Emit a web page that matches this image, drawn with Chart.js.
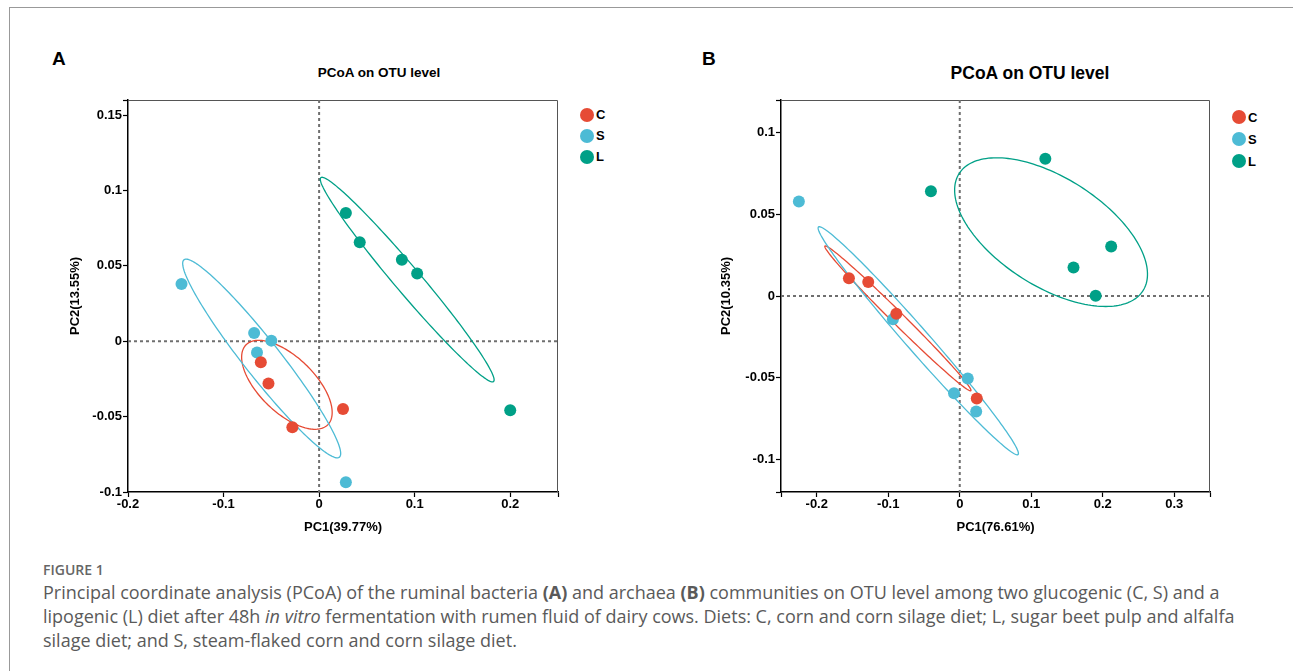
<!DOCTYPE html>
<html>
<head>
<meta charset="utf-8">
<title>PCoA on OTU level</title>
<script src="https://cdn.jsdelivr.net/npm/chart.js@4.4.0/dist/chart.umd.min.js"></script>
<style>
body { margin:0; width:1293px; height:671px; background:#fff; overflow:hidden; position:relative; font-family:"Liberation Sans", Arial, sans-serif; }
#frame { position:absolute; left:9px; top:7px; width:1290px; height:670px; border-top:1px solid #999; border-left:1px solid #999; }
.letter { position:absolute; font-weight:bold; font-size:19px; line-height:19px; }
.ptitle { position:absolute; font-weight:bold; transform:translateX(-50%); white-space:nowrap; }
.leg { position:absolute; font-weight:bold; font-size:13px; }
.leg div { display:flex; align-items:center; }
.leg span { display:inline-block; width:14px; height:14px; border-radius:50%; margin-right:2px; }
canvas { position:absolute; }
#cap { position:absolute; left:43px; top:561px; font-family:"Open Sans", sans-serif; color:#5a5a5a; white-space:nowrap; }
#cap .fig { font-size:14px; font-weight:600; line-height:18px; color:#666; }
#cap .txt { font-size:18px; line-height:24px; margin-top:1px; }
</style>
</head>
<body>
<div id="frame"></div>
<div class="letter" style="left:52px;top:49px;">A</div>
<div class="letter" style="left:702px;top:49px;">B</div>
<div class="ptitle" style="left:379px;top:65px;font-size:13.5px;">PCoA on OTU level</div>
<div class="ptitle" style="left:1030px;top:63px;font-size:17.5px;">PCoA on OTU level</div>
<div class="leg" id="legA" style="left:580px;top:104px;"></div>
<div class="leg" id="legB" style="left:1232px;top:106px;"></div>
<canvas id="chartA" width="530" height="460" style="left:40px;top:90px;"></canvas>
<canvas id="chartB" width="530" height="460" style="left:690px;top:90px;"></canvas>
<div id="cap">
<div class="fig">FIGURE 1</div>
<div class="txt">Principal coordinate analysis (PCoA) of the ruminal bacteria <b>(A)</b> and archaea <b>(B)</b> communities on OTU level among two glucogenic (C, S) and a<br>lipogenic (L) diet after 48h <i>in vitro</i> fermentation with rumen fluid of dairy cows. Diets: C, corn and corn silage diet; L, sugar beet pulp and alfalfa<br>silage diet; and S, steam-flaked corn and corn silage diet.</div>
</div>
<script>
var groups = ['C', 'S', 'L'];
var colors = ['#E64B35', '#4DBBD5', '#00A087'];

// A : bacteria
var aC_x = [-0.061, -0.053, -0.028, 0.025];
var aC_y = [-0.014, -0.028, -0.057, -0.045];
var aS_x = [-0.144, -0.068, -0.050, -0.065, 0.028];
var aS_y = [0.038, 0.0055, 0.0004, -0.0075, -0.0935];
var aL_x = [0.028, 0.0425, 0.0866, 0.1026, 0.200];
var aL_y = [0.085, 0.0656, 0.054, 0.0449, -0.0458];
// ellipses: centre x, centre y, semi axis u (dx, dy), semi axis v (dx, dy)
var aEll_C = [-0.0337, -0.0289, 0.0409, -0.0275, 0.0239, 0.0107];
var aEll_S = [-0.0601, -0.01145, 0.0810, -0.0656, 0.0166, 0.0062];
var aEll_L = [0.0922, 0.0409, 0.0902, -0.0677, 0.01166, 0.00469];
var aXTicks = [-0.2, -0.1, 0, 0.1, 0.2, 0.25];
var aXLabels = ['-0.2', '-0.1', '0', '0.1', '0.2', ''];
var aYTicks = [-0.1, -0.05, 0, 0.05, 0.1, 0.15, 0.16];
var aYLabels = ['-0.1', '-0.05', '0', '0.05', '0.1', '0.15', ''];

// B : archaea
var bC_x = [-0.155, -0.128, -0.0887, 0.0238];
var bC_y = [0.0108, 0.0085, -0.0109, -0.0627];
var bS_x = [-0.225, -0.0935, 0.0112, -0.008, 0.023];
var bS_y = [0.0578, -0.0143, -0.0505, -0.0595, -0.0707];
var bL_x = [-0.0403, 0.1197, 0.2118, 0.1591, 0.1901];
var bL_y = [0.0641, 0.0840, 0.0303, 0.0175, 0.0001];
var bEll_C = [-0.0865, -0.0137, 0.1020, -0.0443, 0.0068, 0.0023];
var bEll_S = [-0.0580, -0.0274, 0.1394, -0.0697, 0.0136, 0.0040];
var bEll_L = [0.1277, 0.0391, 0.1255, -0.0377, 0.0494, 0.0255];
var bXTicks = [-0.25, -0.2, -0.1, 0, 0.1, 0.2, 0.3, 0.35];
var bXLabels = ['', '-0.2', '-0.1', '0', '0.1', '0.2', '0.3', ''];
var bYTicks = [-0.12, -0.1, -0.05, 0, 0.05, 0.1, 0.12];
var bYLabels = ['', '-0.1', '-0.05', '0', '0.05', '0.1', ''];

var fontBold = { family: '"Liberation Sans", Arial, sans-serif', size: 13, weight: 'bold' };

function pts(xs, ys) {
  return xs.map(function(x, i) { return { x: x, y: ys[i] }; });
}

// frame, dotted zero lines and confidence ellipses, all through the chart scales
function makeShapes(ellipses) {
  return {
    id: 'shapes',
    beforeDatasetsDraw: function(chart) {
      var ctx = chart.ctx, xs = chart.scales.x, ys = chart.scales.y, a = chart.chartArea;
      ctx.save();
      ctx.strokeStyle = '#555';
      ctx.lineWidth = 1;
      ctx.beginPath();
      ctx.moveTo(a.left, a.top + 0.5);
      ctx.lineTo(a.right - 0.5, a.top + 0.5);
      ctx.lineTo(a.right - 0.5, a.bottom);
      ctx.stroke();

      var x0 = xs.getPixelForValue(0), y0 = ys.getPixelForValue(0);
      ctx.strokeStyle = '#6f6f6f';
      ctx.lineWidth = 2;
      ctx.setLineDash([3, 3]);
      ctx.beginPath();
      ctx.moveTo(x0, a.top); ctx.lineTo(x0, a.bottom);
      ctx.moveTo(a.left, y0); ctx.lineTo(a.right, y0);
      ctx.stroke();
      ctx.setLineDash([]);

      ctx.lineWidth = 1.3;
      ellipses.forEach(function(e, k) {
        ctx.strokeStyle = colors[k];
        ctx.beginPath();
        for (var i = 0; i <= 180; i++) {
          var t = i / 180 * Math.PI * 2;
          var px = xs.getPixelForValue(e[0] + Math.cos(t) * e[2] + Math.sin(t) * e[4]);
          var py = ys.getPixelForValue(e[1] + Math.cos(t) * e[3] + Math.sin(t) * e[5]);
          if (i == 0) ctx.moveTo(px, py); else ctx.lineTo(px, py);
        }
        ctx.closePath();
        ctx.stroke();
      });
      ctx.restore();
    }
  };
}

function makeChart(id, c) {
  return new Chart(document.getElementById(id), {
    type: 'scatter',
    data: {
      datasets: groups.map(function(g, k) {
        return {
          label: g, data: c.points[k], backgroundColor: colors[k], borderWidth: 0,
          pointRadius: 6, pointHoverRadius: 6, pointBorderWidth: 0
        };
      })
    },
    options: {
      responsive: false,
      animation: false,
      events: [],
      layout: { padding: { top: 10, right: c.padRight, left: 0, bottom: 0 } },
      plugins: { legend: { display: false }, tooltip: { enabled: false } },
      scales: {
        x: {
          type: 'linear', min: c.xMin, max: c.xMax,
          afterBuildTicks: function(s) { s.ticks = c.xTicks.map(function(v) { return { value: v }; }); },
          afterFit: function(s) { s.height = 58; },
          ticks: { font: fontBold, color: '#000', padding: 0, maxRotation: 0, autoSkip: false,
                   callback: function(v, i) { return c.xLabels[i]; } },
          grid: { drawOnChartArea: false, tickLength: 5, tickColor: '#000', tickWidth: 1.2 },
          border: { color: '#000', width: 1.5 },
          title: { display: true, text: c.xTitle, font: fontBold, color: '#000', padding: { top: 0, bottom: 15 } }
        },
        y: {
          type: 'linear', min: c.yMin, max: c.yMax,
          afterBuildTicks: function(s) { s.ticks = c.yTicks.map(function(v) { return { value: v }; }); },
          afterFit: function(s) { s.width = c.yWidth; },
          ticks: { font: fontBold, color: '#000', padding: 1, autoSkip: false,
                   callback: function(v, i) { return c.yLabels[i]; } },
          grid: { drawOnChartArea: false, tickLength: 5, tickColor: '#000', tickWidth: 1.2 },
          border: { color: '#000', width: 1.5 },
          title: { display: true, text: c.yTitle, font: fontBold, color: '#000', padding: { top: c.yTitlePad, bottom: 0 } }
        }
      }
    },
    plugins: [makeShapes(c.ellipses)]
  });
}

function makeLegend(id, rowH) {
  var el = document.getElementById(id);
  groups.forEach(function(g, k) {
    var row = document.createElement('div');
    row.style.height = rowH + 'px';
    row.innerHTML = '<span style="background:' + colors[k] + '"></span>' + g;
    el.appendChild(row);
  });
}

makeChart('chartA', {
  points: [pts(aC_x, aC_y), pts(aS_x, aS_y), pts(aL_x, aL_y)],
  ellipses: [aEll_C, aEll_S, aEll_L],
  xMin: -0.2, xMax: 0.25, yMin: -0.1, yMax: 0.16,
  xTicks: aXTicks, xLabels: aXLabels, yTicks: aYTicks, yLabels: aYLabels,
  xTitle: 'PC1(39.77%)', yTitle: 'PC2(13.55%)',
  yWidth: 88, yTitlePad: 28, padRight: 12
});
makeChart('chartB', {
  points: [pts(bC_x, bC_y), pts(bS_x, bS_y), pts(bL_x, bL_y)],
  ellipses: [bEll_C, bEll_S, bEll_L],
  xMin: -0.25, xMax: 0.35, yMin: -0.12, yMax: 0.12,
  xTicks: bXTicks, xLabels: bXLabels, yTicks: bYTicks, yLabels: bYLabels,
  xTitle: 'PC1(76.61%)', yTitle: 'PC2(10.35%)',
  yWidth: 91, yTitlePad: 29, padRight: 10
});
makeLegend('legA', 21);
makeLegend('legB', 22);
</script>
</body>
</html>
